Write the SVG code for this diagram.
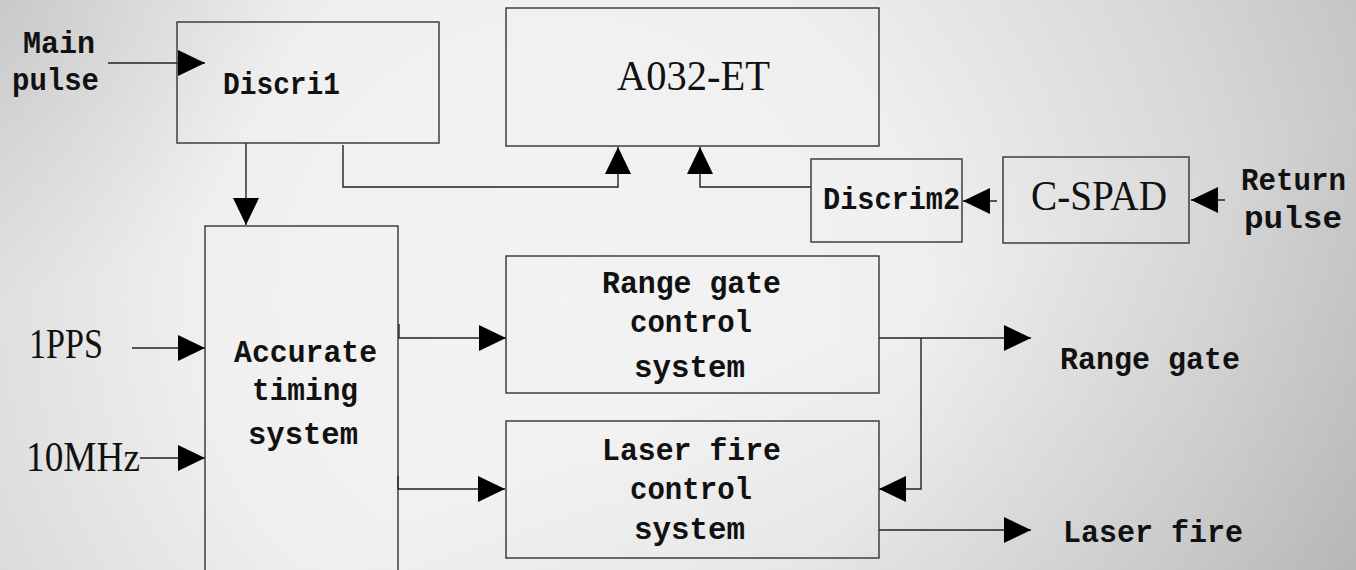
<svg xmlns="http://www.w3.org/2000/svg" width="1356" height="570" viewBox="0 0 1356 570">
<style>
.box{fill:none;stroke:#333;stroke-width:1.4}
.ln{fill:none;stroke:#222;stroke-width:1.4}
.t{font-family:"Liberation Mono",monospace;font-weight:bold;font-size:32px;fill:#111}
.b{font-family:"Liberation Serif",serif;font-size:42px;fill:#111}
</style>
<defs>
<radialGradient id="bg" gradientUnits="userSpaceOnUse" cx="560" cy="300" r="880">
<stop offset="0" stop-color="#f3f3f3"/>
<stop offset="0.4" stop-color="#f0f0f0"/>
<stop offset="0.75" stop-color="#d8d8d8"/>
<stop offset="1" stop-color="#c2c2c2"/>
</radialGradient>
<linearGradient id="sh" x1="0" y1="0" x2="1" y2="1">
<stop offset="0" stop-color="#000" stop-opacity="0"/>
<stop offset="0.6" stop-color="#000" stop-opacity="0"/>
<stop offset="1" stop-color="#000" stop-opacity="0.08"/>
</linearGradient>
<radialGradient id="tl" gradientUnits="userSpaceOnUse" cx="0" cy="0" r="300">
<stop offset="0" stop-color="#000" stop-opacity="0.08"/>
<stop offset="1" stop-color="#000" stop-opacity="0"/>
</radialGradient>
<marker id="ah" markerUnits="userSpaceOnUse" markerWidth="27" markerHeight="26" refX="27" refY="13" orient="auto">
<path d="M0,0 L27,13 L0,26 z" fill="#000"/>
</marker>
</defs>
<rect width="1356" height="570" fill="url(#bg)"/>
<rect width="1356" height="570" fill="url(#sh)"/>
<rect width="1356" height="570" fill="url(#tl)"/>

<g id="connectors">
<line class="ln" x1="108" y1="63" x2="205" y2="63" marker-end="url(#ah)"/>
<line class="ln" x1="246" y1="143" x2="246" y2="225" marker-end="url(#ah)"/>
<polyline class="ln" points="343,145 343,187 618,187 618,147" marker-end="url(#ah)"/>
<polyline class="ln" points="811,187 700,187 700,147" marker-end="url(#ah)"/>
<line class="ln" x1="997" y1="201" x2="963" y2="201" marker-end="url(#ah)"/>
<line class="ln" x1="1225" y1="200" x2="1191" y2="200" marker-end="url(#ah)"/>
<line class="ln" x1="132" y1="348" x2="205" y2="348" marker-end="url(#ah)"/>
<line class="ln" x1="140" y1="458" x2="205" y2="458" marker-end="url(#ah)"/>
<polyline class="ln" points="399,324 399,338 506,338" marker-end="url(#ah)"/>
<polyline class="ln" points="398,476 398,489 505,489" marker-end="url(#ah)"/>
<line class="ln" x1="879" y1="338" x2="1031" y2="338" marker-end="url(#ah)"/>
<polyline class="ln" points="921,338 921,489 879,489" marker-end="url(#ah)"/>
<line class="ln" x1="879" y1="530" x2="1031" y2="530" marker-end="url(#ah)"/>
</g>

<g id="main-pulse">
<text class="t" x="23" y="53" textLength="72" lengthAdjust="spacingAndGlyphs">Main</text>
<text class="t" x="12" y="90" textLength="87" lengthAdjust="spacingAndGlyphs">pulse</text>
</g>
<g id="discri1">
<rect class="box" x="177" y="22" width="262" height="121"/>
<text class="t" x="223" y="94" textLength="117" lengthAdjust="spacingAndGlyphs">Discri1</text>
</g>
<g id="a032">
<rect class="box" x="506" y="8" width="373" height="138"/>
<text class="b" x="617" y="90" font-size="41" textLength="153" lengthAdjust="spacingAndGlyphs">A032-ET</text>
</g>
<g id="discrim2">
<rect class="box" x="811" y="159" width="151" height="83"/>
<text class="t" x="823" y="209" textLength="137" lengthAdjust="spacingAndGlyphs">Discrim2</text>
</g>
<g id="cspad">
<rect class="box" x="1003" y="157" width="186" height="86"/>
<text class="b" x="1031" y="210" textLength="136" lengthAdjust="spacingAndGlyphs">C-SPAD</text>
</g>
<g id="return-pulse">
<text class="t" x="1241" y="190" textLength="105" lengthAdjust="spacingAndGlyphs">Return</text>
<text class="t" x="1244" y="228" textLength="98" lengthAdjust="spacingAndGlyphs">pulse</text>
</g>
<g id="pps">
<text class="b" x="29" y="358" textLength="74" lengthAdjust="spacingAndGlyphs">1PPS</text>
</g>
<g id="mhz">
<text class="b" x="26" y="471" font-size="43" textLength="114" lengthAdjust="spacingAndGlyphs">10MHz</text>
</g>
<g id="timing">
<rect class="box" x="205" y="226" width="193" height="380"/>
<text class="t" x="234" y="362" textLength="143" lengthAdjust="spacingAndGlyphs">Accurate</text>
<text class="t" x="252" y="400" textLength="106" lengthAdjust="spacingAndGlyphs">timing</text>
<text class="t" x="248" y="444" textLength="110" lengthAdjust="spacingAndGlyphs">system</text>
</g>
<g id="range-ctrl">
<rect class="box" x="506" y="256" width="373" height="137"/>
<text class="t" x="602" y="293" textLength="179" lengthAdjust="spacingAndGlyphs">Range gate</text>
<text class="t" x="630" y="332" textLength="122" lengthAdjust="spacingAndGlyphs">control</text>
<text class="t" x="634" y="377" textLength="111" lengthAdjust="spacingAndGlyphs">system</text>
</g>
<g id="laser-ctrl">
<rect class="box" x="506" y="421" width="373" height="137"/>
<text class="t" x="602" y="460" textLength="179" lengthAdjust="spacingAndGlyphs">Laser fire</text>
<text class="t" x="630" y="499" textLength="122" lengthAdjust="spacingAndGlyphs">control</text>
<text class="t" x="634" y="539" textLength="111" lengthAdjust="spacingAndGlyphs">system</text>
</g>
<g id="range-gate-out">
<text class="t" x="1060" y="369" textLength="180" lengthAdjust="spacingAndGlyphs">Range gate</text>
</g>
<g id="laser-fire-out">
<text class="t" x="1063" y="542" textLength="180" lengthAdjust="spacingAndGlyphs">Laser fire</text>
</g>
</svg>
